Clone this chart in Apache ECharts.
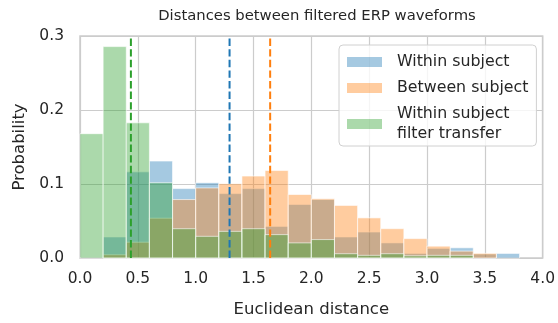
<!DOCTYPE html>
<html>
<head>
<meta charset="utf-8">
<script src="https://cdn.jsdelivr.net/npm/echarts@6/dist/echarts.min.js"></script>
<style>html,body{margin:0;padding:0;background:#fff;}#c{width:558px;height:323px;}</style>
</head>
<body>
<div id="c"></div>
<script>
const binLeft = [0.0,0.2,0.4,0.6,0.8,1.0,1.2,1.4,1.6,1.8,2.0,2.2,2.4,2.6,2.8,3.0,3.2,3.4,3.6];
const binWidth = 0.2;
const withinSubject   = [0, 0.0284,0.1164,0.131,0.0938,0.1018,0.087,0.0938,0.0427,0.0724,0.079,0.0284,0.0351,0.0204,0.0062,0.013,0.0138,0.0053,0.0062];
const betweenSubject  = [0, 0.0044,0.0213,0.0538,0.079,0.0947,0.1004,0.1107,0.1182,0.0858,0.080,0.0711,0.0542,0.0396,0.0262,0.016,0.0093,0.0063,0];
const filterTransfer  = [0.168,0.2857,0.1827,0.1018,0.0396,0.0293,0.036,0.0396,0.0316,0.0204,0.0249,0.0058,0.0036,0.0058,0.003,0.0036,0.0036,0,0];
const meanLines = {within: 1.293, between: 1.644, transfer: 0.44};
const xTicks = [0,0.5,1.0,1.5,2.0,2.5,3.0,3.5,4.0];
const yTicks = [0,0.1,0.2,0.3];
const seriesNames = ['Within subject','Between subject','Within subject\nfilter transfer'];

const FONT = 'DejaVu Sans';
const TXT = '#262626';
const chart = echarts.init(document.getElementById('c'), null, {renderer:'canvas'});

function histSeries(name, vals, color, z){
  return {
    type:'custom', name:name, z:z,
    itemStyle:{color:color},
    data: binLeft.map((l,i)=>[l, l+binWidth, vals[i]]).filter(d=>d[2]>0),
    encode:{x:[0,1], y:2},
    renderItem:function(params, api){
      const p0 = api.coord([api.value(0), api.value(2)]);
      const p1 = api.coord([api.value(1), 0]);
      return {type:'rect', shape:{x:p0[0], y:p0[1], width:p1[0]-p0[0], height:p1[1]-p0[1]},
        style:{fill:color, stroke:'rgba(255,255,255,0.6)', lineWidth:1}};
    }
  };
}
function vline(x, color){
  return {type:'line', data:[[x,0],[x,0.3]], symbol:'none', z:10, silent:true,
    lineStyle:{color:color, width:2, type:[7.4,3.2]}, animation:false};
}

chart.setOption({
  animation:false,
  textStyle:{fontFamily:FONT},
  title:{text:'Distances between filtered ERP waveforms', left:312, textAlign:'center', top:4,
    textStyle:{fontFamily:FONT, fontSize:14.8, fontWeight:'normal', color:TXT}},
  grid:{left:80, right:14, top:36, bottom:61, show:true, borderColor:'#cccccc', borderWidth:1.5},
  xAxis:{type:'value', min:0, max:4, interval:0.5,
    name:'Euclidean distance', nameLocation:'middle', nameGap:43,
    nameTextStyle:{fontFamily:FONT, fontSize:16.5, color:TXT},
    axisLine:{show:false}, axisTick:{show:false},
    splitLine:{show:true, lineStyle:{color:'#cccccc', width:1.2}},
    axisLabel:{fontFamily:FONT, fontSize:15.5, color:TXT, margin:13, formatter:v=>v.toFixed(1)}},
  yAxis:{type:'value', min:0, max:0.3, interval:0.1,
    name:'Probability', nameLocation:'middle', nameGap:48,
    nameTextStyle:{fontFamily:FONT, fontSize:16.5, color:TXT},
    axisLine:{show:false}, axisTick:{show:false},
    splitLine:{show:true, lineStyle:{color:'#cccccc', width:1.2}},
    axisLabel:{fontFamily:FONT, fontSize:15.5, color:TXT, margin:16, formatter:v=>v.toFixed(1)}},
  legend:{data:seriesNames, left:339, top:45, orient:'vertical', icon:'rect',
    itemWidth:35, itemHeight:10, itemGap:6,
    padding:[7,8,2,8],
    backgroundColor:'rgba(255,255,255,0.8)', borderColor:'#d0d0d0', borderWidth:1, borderRadius:4,
    textStyle:{fontFamily:FONT, fontSize:15.8, color:TXT, lineHeight:20, padding:[0,0,0,10]}},
  series:[
    histSeries(seriesNames[0], withinSubject, 'rgba(31,119,180,0.4)', 2),
    histSeries(seriesNames[1], betweenSubject, 'rgba(255,127,14,0.4)', 3),
    histSeries(seriesNames[2], filterTransfer, 'rgba(44,160,44,0.4)', 4),
    vline(meanLines.within, '#1f77b4'),
    vline(meanLines.between, '#ff7f0e'),
    vline(meanLines.transfer, '#2ca02c')
  ]
});
</script>
</body>
</html>
